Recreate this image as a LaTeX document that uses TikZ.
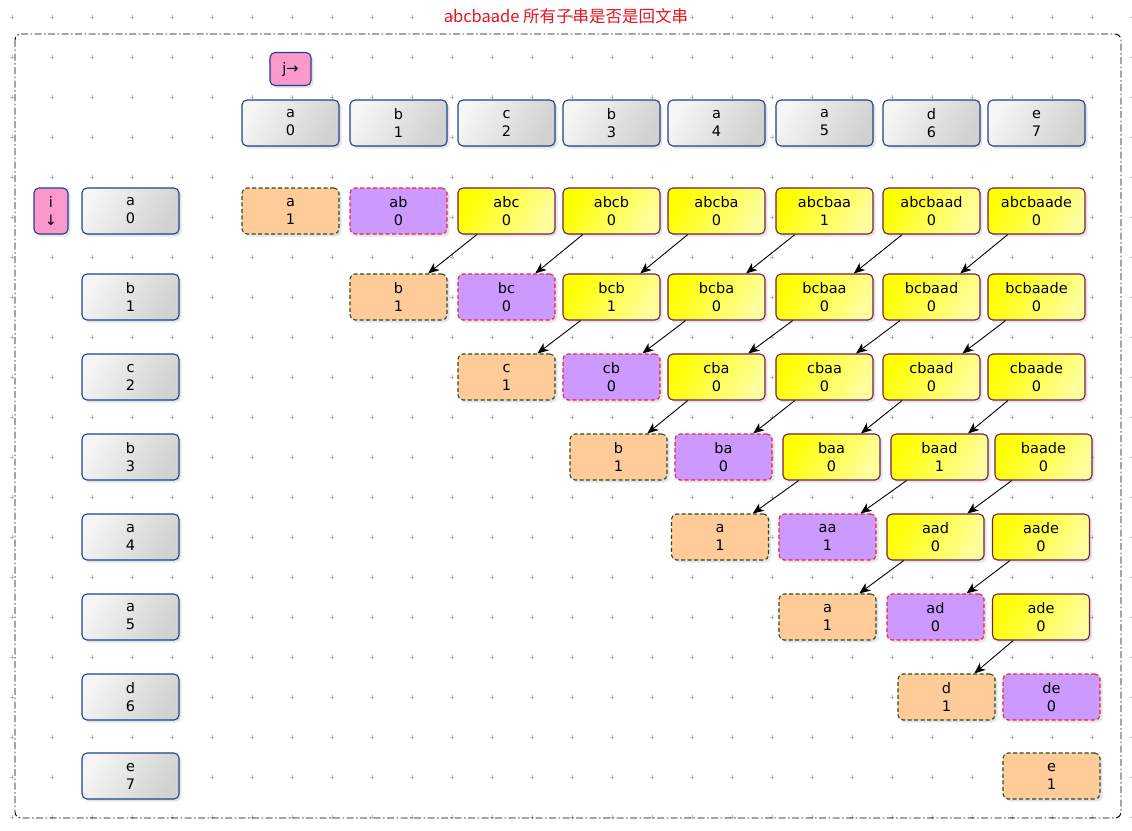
\documentclass[tikz,border=0pt]{standalone}
\usepackage{fontspec}
\setmainfont{DejaVu Sans}
\newfontfamily\cjkfont{Noto Sans CJK SC}
\usetikzlibrary{arrows.meta,shadows}
\definecolor{navyb}{HTML}{23408E}
\definecolor{pinkf}{HTML}{FB99CD}
\definecolor{peach}{HTML}{FFCC99}
\definecolor{lav}{HTML}{CC99FF}
\definecolor{maroonb}{HTML}{7A1B4A}
\definecolor{dgreen}{HTML}{2F4A1F}
\definecolor{redb}{HTML}{F0203A}
\definecolor{titlered}{HTML}{E8141E}
\definecolor{gridc}{HTML}{B8B8B8}
\definecolor{ylight}{HTML}{FFFF9E}
\begin{document}
\begin{tikzpicture}[x=1pt,y=-1pt,
  every node/.style={font=\fontsize{14.5}{18}\selectfont, align=center, inner sep=0pt},
  shad/.style={drop shadow={shadow xshift=2.5pt,shadow yshift=-2.5pt,opacity=0.2}},
  cellbase/.style={shad, rounded corners=5pt, minimum width=97pt, minimum height=46pt, line width=1.1pt},
  idxbox/.style={cellbase, draw=navyb, left color=white!96!black, right color=black!18, shading angle=60},
  markbox/.style={shad, rounded corners=5pt, draw=navyb, line width=1.1pt, fill=pinkf},
  single/.style={cellbase, draw=dgreen, fill=peach, dashed, dash pattern=on 4pt off 2.5pt},
  pair/.style={cellbase, draw=redb, fill=lav, dashed, dash pattern=on 4pt off 2.5pt},
  longer/.style={cellbase, draw=maroonb, left color=yellow, right color=ylight, shading angle=60},
  link/.style={draw=black, line width=0.9pt, -{Stealth[length=11pt,width=9pt,inset=3pt]}},
  frm/.style={draw=black, line width=0.9pt, rounded corners=6pt, dash pattern=on 7pt off 2.5pt on 1.5pt off 2.5pt}
]
% background and bounding box
\fill[white] (0,0) rectangle (1132,830);
\useasboundingbox (0,0) rectangle (1132,830);
% dotted grid
\foreach \gx in {0,...,28}{
  \foreach \gy in {0,...,20}{
    \draw[gridc, line width=0.45pt] (12+40*\gx-1.6,17+40*\gy) -- ++(3.2,0) (12+40*\gx,17+40*\gy-1.6) -- ++(0,3.2);
  }
}
% frame
\draw[frm] (15,34) rectangle (1121,818);
% title
\node[text=titlered, font=\cjkfont\fontsize{16.5}{19}\selectfont] (title) at (566,16) {abcbaade 所有子串是否是回文串};
% markers
\node[markbox, minimum width=41pt, minimum height=33pt] (jm) at (290.5,69) {j→};
\node[markbox, minimum width=34pt, minimum height=46pt] (im) at (51,211) {i\\↓};
% header row
\node[idxbox] (h0) at (290.5,123) {a\\0};
\node[idxbox] (h1) at (398.5,123) {b\\1};
\node[idxbox] (h2) at (506.5,123) {c\\2};
\node[idxbox] (h3) at (611.5,123) {b\\3};
\node[idxbox] (h4) at (716.5,123) {a\\4};
\node[idxbox] (h5) at (824.5,123) {a\\5};
\node[idxbox] (h6) at (931.5,123) {d\\6};
\node[idxbox] (h7) at (1036.5,123) {e\\7};
% left column
\node[idxbox] (r0) at (130.5,211) {a\\0};
\node[idxbox] (r1) at (130.5,297) {b\\1};
\node[idxbox] (r2) at (130.5,377) {c\\2};
\node[idxbox] (r3) at (130.5,457) {b\\3};
\node[idxbox] (r4) at (130.5,537) {a\\4};
\node[idxbox] (r5) at (130.5,617) {a\\5};
\node[idxbox] (r6) at (130.5,697) {d\\6};
\node[idxbox] (r7) at (130.5,776) {e\\7};
% row 0
\node[single] (c00) at (290.5,211) {a\\1};
\node[pair]   (c01) at (398.5,211) {ab\\0};
\node[longer] (c02) at (506.5,211) {abc\\0};
\node[longer] (c03) at (611.5,211) {abcb\\0};
\node[longer] (c04) at (716.5,211) {abcba\\0};
\node[longer] (c05) at (824.5,211) {abcbaa\\1};
\node[longer] (c06) at (931.5,211) {abcbaad\\0};
\node[longer] (c07) at (1036.5,211) {abcbaade\\0};
% row 1
\node[single] (c11) at (398.5,297) {b\\1};
\node[pair]   (c12) at (506.5,297) {bc\\0};
\node[longer] (c13) at (611.5,297) {bcb\\1};
\node[longer] (c14) at (716.5,297) {bcba\\0};
\node[longer] (c15) at (824.5,297) {bcbaa\\0};
\node[longer] (c16) at (931.5,297) {bcbaad\\0};
\node[longer] (c17) at (1036.5,297) {bcbaade\\0};
% row 2
\node[single] (c22) at (506.5,377) {c\\1};
\node[pair]   (c23) at (611.5,377) {cb\\0};
\node[longer] (c24) at (716.5,377) {cba\\0};
\node[longer] (c25) at (824.5,377) {cbaa\\0};
\node[longer] (c26) at (931.5,377) {cbaad\\0};
\node[longer] (c27) at (1036.5,377) {cbaade\\0};
% row 3
\node[single] (c33) at (618.5,457) {b\\1};
\node[pair]   (c34) at (723.5,457) {ba\\0};
\node[longer] (c35) at (831.5,457) {baa\\0};
\node[longer] (c36) at (939.5,457) {baad\\1};
\node[longer] (c37) at (1043.5,457) {baade\\0};
% row 4
\node[single] (c44) at (720,537) {a\\1};
\node[pair]   (c45) at (827.5,537) {aa\\1};
\node[longer] (c46) at (935.5,537) {aad\\0};
\node[longer] (c47) at (1041,537) {aade\\0};
% row 5
\node[single] (c55) at (827.5,617) {a\\1};
\node[pair]   (c56) at (935.5,617) {ad\\0};
\node[longer] (c57) at (1041,617) {ade\\0};
% row 6
\node[single] (c66) at (946.5,697) {d\\1};
\node[pair]   (c67) at (1051.5,697) {de\\0};
% row 7
\node[single] (c77) at (1051.5,776) {e\\1};
% links: dp[i][j] depends on dp[i+1][j-1]
\foreach \i/\j in {0/2,0/3,0/4,0/5,0/6,0/7,1/3,1/4,1/5,1/6,1/7,2/4,2/5,2/6,2/7,3/5,3/6,3/7,4/6,4/7,5/7}{
  \pgfmathtruncatemacro{\ni}{\i+1}
  \pgfmathtruncatemacro{\nj}{\j-1}
  \draw[link] (c\i\j) -- (c\ni\nj);
}
\end{tikzpicture}
\end{document}
